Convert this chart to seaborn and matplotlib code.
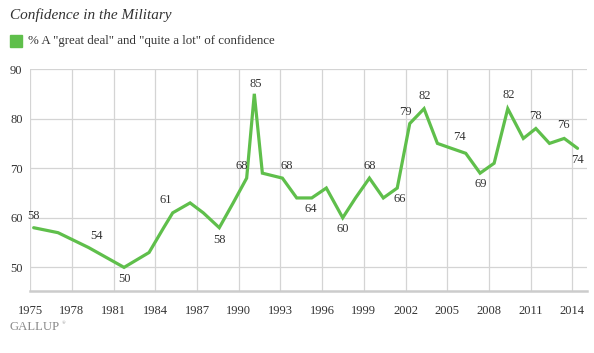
import matplotlib
matplotlib.use("Agg")
import matplotlib.pyplot as plt
from matplotlib.patches import Rectangle
import pandas as pd
import seaborn as sns

# survey dates (fractional years) and % great deal / quite a lot
years = [1975.25, 1977.0, 1979.2, 1981.75, 1983.55, 1984.6, 1985.25, 1986.5, 1987.45,
         1988.6, 1989.6, 1990.57, 1991.12, 1991.7, 1993.14, 1994.17, 1995.25, 1996.3,
         1997.48, 1998.4, 1999.4, 2000.4, 2001.4, 2002.3, 2003.33, 2004.29, 2005.3,
         2006.33, 2007.36, 2008.37, 2009.35, 2010.47, 2011.37, 2012.35, 2013.41, 2014.37]
values = [58, 57, 54, 50, 53, 58, 61, 63, 61, 58, 63, 68, 85, 69, 68, 64, 64, 66,
          60, 64, 68, 64, 66, 79, 82, 75, 74, 73, 69, 71, 82, 76, 78, 75, 76, 74]

# which points get a value label, and where (pixel offset from the point)
label_idx = [0, 2, 3, 6, 9, 11, 12, 14, 16, 18, 20, 22, 23, 24, 26, 28, 30, 32, 34, 35]
label_dx = [0, 8, 0, -7, 0, -5, 1, 4, -1, 0, 0, 3, -4, 1, 8, 1, 1, 0, -1, 0]
label_dy = [12, 12, -12, 13, -12, 12, 10, 12, -11, -11, 12, -11, 12, 13, 11, -11, 14, 13, 13, -12]

tick_years = list(range(1975, 2015, 3))
y_ticks = [50, 60, 70, 80, 90]

GREEN = "#5fbf4b"
TEXT = "#333333"
FONT = ["Liberation Serif", "DejaVu Serif"]

sns.set_theme(style="whitegrid")
plt.rcParams["font.family"] = FONT
plt.rcParams["text.color"] = TEXT

df = pd.DataFrame({"year": years, "pct": values})

fig = plt.figure(figsize=(5.94, 3.53), dpi=100)
W, H = 594, 353
ax = fig.add_axes([29.5 / W, 1 - 290.7 / H, (587 - 29.5) / W, (290.7 - 69) / H])

sns.lineplot(data=df, x="year", y="pct", color=GREEN, linewidth=2.3, ax=ax,
             solid_joinstyle="miter")

ax.set_xlim(1974.95, 2015.05)
ax.set_ylim(45.3, 90)
ax.set_xticks(tick_years)
ax.set_yticks(y_ticks)
ax.set_xlabel("")
ax.set_ylabel("")
ax.set_facecolor("white")
ax.grid(True, color="#d4d4d4", linewidth=0.9)
for side in ["top", "right", "left"]:
    ax.spines[side].set_visible(False)
ax.spines["bottom"].set_color("#cccccc")
ax.spines["bottom"].set_linewidth(1.8)
ax.tick_params(axis="x", length=0, pad=10, labelsize=9, labelcolor=TEXT)
ax.tick_params(axis="y", length=0, pad=5, labelsize=9, labelcolor=TEXT)

for i, dx, dy in zip(label_idx, label_dx, label_dy):
    ax.annotate(str(values[i]), (years[i], values[i]), xytext=(dx, dy),
                textcoords="offset pixels", ha="center", va="center",
                fontsize=9, color=TEXT)

fig.text(10 / W, 1 - 15 / H, "Confidence in the Military", fontsize=11,
         style="italic", va="center", ha="left", color=TEXT)
fig.patches.append(Rectangle((9.5 / W, 1 - 47 / H), 12 / W, 12 / H,
                             transform=fig.transFigure, color=GREEN, figure=fig))
fig.text(28 / W, 1 - 41 / H, '% A "great deal" and "quite a lot" of confidence',
         fontsize=9.3, va="center", ha="left", color=TEXT)
fig.text(10 / W, 1 - 327 / H, "GALLUP", fontsize=9.2, va="center", ha="left",
         color="#8a8a8a")
fig.text(61.5 / W, 1 - 323 / H, "\u00ae", fontsize=3.5, va="center", ha="left",
         color="#8a8a8a")

fig.savefig("out.png", dpi=100)
